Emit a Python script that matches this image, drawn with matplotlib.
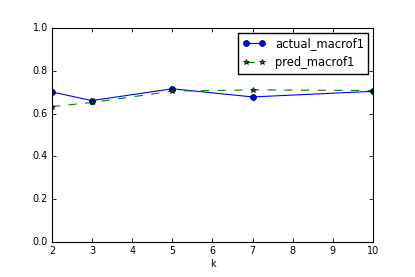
import matplotlib
matplotlib.use("Agg")
import matplotlib.pyplot as plt

k = [2, 3, 5, 7, 10]
actual_macrof1 = [0.701, 0.661, 0.716, 0.678, 0.704]
pred_macrof1 = [0.633, 0.652, 0.705, 0.711, 0.708]

plt.style.use('classic')
plt.rcParams['font.size'] = 6.9
plt.rcParams['lines.linewidth'] = 0.8
plt.rcParams['axes.linewidth'] = 0.8

fig = plt.figure(figsize=(4.15, 2.77), dpi=100)
ax = fig.add_axes([0.125, 0.126, 0.774, 0.773])
ax.plot(k, actual_macrof1, 'b-o', markersize=4.3, label='actual_macrof1')
ax.plot(k, pred_macrof1, 'g--*', markersize=4.3, label='pred_macrof1')
ax.set_ylim(0, 1.0)
ax.set_xlim(2, 10)
ax.set_xlabel('k', labelpad=2)
ax.tick_params(length=3, width=0.6, pad=3)
ax.legend(loc='upper right', fontsize=8.3, handlelength=2.0, borderaxespad=0.4)
fig.savefig('out.png', dpi=100, facecolor='white')
